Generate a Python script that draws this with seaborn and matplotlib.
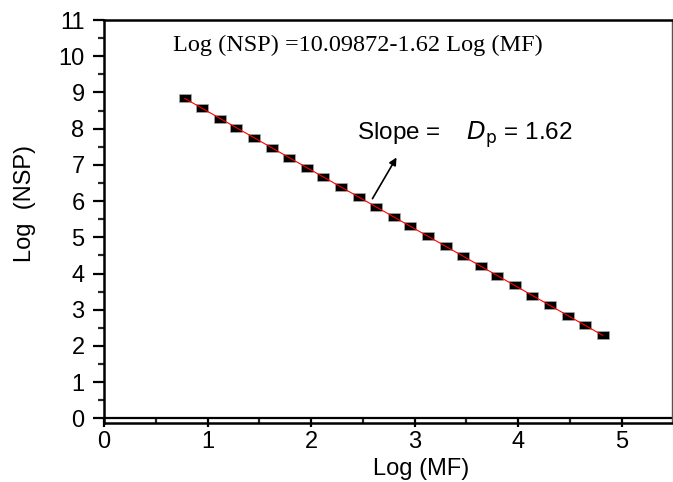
import numpy as np
import pandas as pd
import matplotlib
matplotlib.use("Agg")
import matplotlib.pyplot as plt
from matplotlib.ticker import MultipleLocator
import seaborn as sns

log_mf = [0.78, 0.95, 1.12, 1.28, 1.45, 1.62, 1.79, 1.96, 2.12, 2.29, 2.46, 2.63, 2.80,
          2.96, 3.13, 3.30, 3.47, 3.64, 3.80, 3.97, 4.14, 4.31, 4.48, 4.65, 4.82]
log_nsp = [8.84, 8.56, 8.28, 8.02, 7.75, 7.47, 7.20, 6.92, 6.66, 6.39, 6.11, 5.84, 5.56,
           5.30, 5.03, 4.75, 4.48, 4.20, 3.94, 3.67, 3.39, 3.12, 2.84, 2.57, 2.31]
fit_intercept = 10.09872
fit_slope = -1.62
fit_x = [0.78, 4.82]

df = pd.DataFrame({"x": log_mf, "y": log_nsp})
fit_df = pd.DataFrame({"x": fit_x, "y": [fit_intercept + fit_slope * v for v in fit_x]})

sns.set_theme(style="ticks")
plt.rcParams['font.family'] = ['Liberation Sans', 'DejaVu Sans']

fig = plt.figure(figsize=(6.73, 4.82), dpi=100)
x0 = 104 / 673
x1 = 671.7 / 673
ax = fig.add_axes([x0, 0.123, x1 - x0, 0.9585 - 0.123])

rect = [(-1, -0.64), (1, -0.64), (1, 0.64), (-1, 0.64), (-1, -0.64)]
sns.scatterplot(data=df, x="x", y="y", ax=ax, marker=rect, s=80, color="black",
                edgecolor="#aaaaaa", linewidth=0.5, zorder=2)
sns.lineplot(data=fit_df, x="x", y="y", ax=ax, color="red", lw=0.8, zorder=3)

ax.axhline(0, color="black", lw=1.6, zorder=1)
ax.set_xlim(0, 5.485)
ax.set_ylim(-0.12, 11)
ax.xaxis.set_major_locator(MultipleLocator(1))
ax.xaxis.set_minor_locator(MultipleLocator(0.5))
ax.yaxis.set_major_locator(MultipleLocator(1))
ax.yaxis.set_minor_locator(MultipleLocator(0.5))
ax.tick_params(axis="y", which="major", direction="out", length=8, width=1.6, labelsize=17, pad=6, colors="black")
ax.tick_params(axis="y", which="minor", direction="out", length=4, width=1.6)
ax.tick_params(axis="x", which="major", direction="inout", length=6, width=1.6, labelsize=17, pad=3, colors="black")
ax.tick_params(axis="x", which="minor", direction="in", length=3.5, width=1.6)
for side, s in ax.spines.items():
    s.set_linewidth(1.8)
    s.set_color("black")
ax.spines["right"].set_linewidth(1.0)
ax.spines["right"].set_color("#555555")

ax.set_xlabel("Log (MF)", fontsize=17, color="black")
ax.set_ylabel("Log  (NSP)", fontsize=17, color="black")
ax.xaxis.set_label_coords((421 - 104) / (671.7 - 104), -0.115)
ax.yaxis.set_label_coords(-(104 - 25) / (671.7 - 104), 0.545)
ax.xaxis.label.set_va("center")
ax.yaxis.label.set_va("center")

ax.text(0.67, 10.31, "Log (NSP) =10.09872-1.62 Log (MF)", family="Liberation Serif",
        fontsize=17.5, va="center", ha="left", color="black")
ax.text(2.44, 7.83, "Slope =    $D_\\mathrm{p}$ = 1.62", fontsize=17.5, va="center", ha="left",
        color="black")
ax.annotate("", xy=(2.84, 7.27), xytext=(2.58, 6.0),
            arrowprops=dict(arrowstyle="-|>", color="black", lw=1.2, mutation_scale=11))

fig.savefig("out.png", dpi=100)
